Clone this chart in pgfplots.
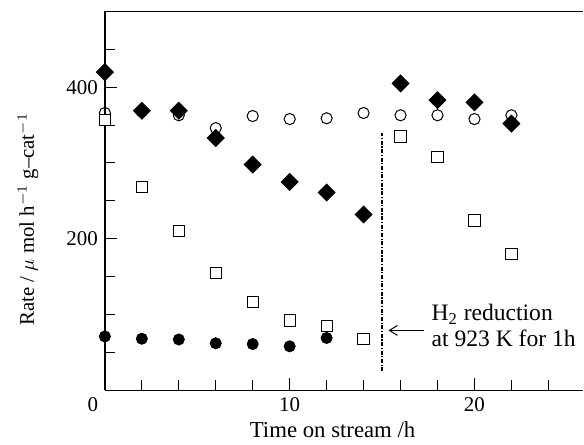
\documentclass[border=0pt]{standalone}
\usepackage{fontspec}
\setmainfont{Liberation Serif}
\usepackage{pgfplots}
\pgfplotsset{compat=1.18}
\usetikzlibrary{arrows.meta}
\begin{document}
\begin{tikzpicture}
\begin{axis}[
    name=ax,
    scale only axis,
    width=239.5pt, height=189.6pt,
    xmin=0, xmax=25.89,
    ymin=0, ymax=500,
    axis x line*=box, axis y line*=left,
    xtick pos=left, ytick pos=left,
    xtick={0,10,20},
    xticklabels={\makebox[0pt]{0\hspace{12pt}},10,20},
    minor xtick={2,4,6,8,12,14,16,18,22,24},
    ytick={200,400},
    minor ytick={50,100,150,250,300,350,450},
    major tick length=6pt, minor tick length=5pt,
    tick style={black, line width=0.5pt},
    axis line style={line width=0.7pt},
    /pgf/number format/assume math mode=true,
    ticklabel style={font=\fontsize{10.5}{12}\selectfont},
    xlabel={Time on stream /h},
    xlabel style={at={(rel axis cs:0.476,-0.1247)}, anchor=base, font=\fontsize{11.4}{13}\selectfont},
    ylabel={Rate / $\mu$ mol h$^{-1}$ g--cat$^{-1}$},
    ylabel style={at={(rel axis cs:-0.1482,0.452)}, anchor=base, font=\fontsize{10.4}{12}\selectfont},
    clip=false,
    every axis plot/.append style={only marks, line width=0.5pt},
]

% open circles
\addplot[mark=o, mark size=2.8pt, mark options={fill=white}] coordinates {
    (0,366) (2,368) (4,363) (6,346) (8,362) (10,358)
    (12,359) (14,366) (16,363) (18,363) (20,358) (22,363)
};

% open squares
\addplot[mark=square*, mark size=2.8pt, mark options={fill=white, draw=black}] coordinates {
    (0,357) (2,268) (4,210) (6,155) (8,117) (10,92) (12,85) (14,68)
    (16,335) (18,308) (20,224) (22,180)
};

% filled circles
\addplot[mark=*, mark size=2.75pt, mark options={fill=black}] coordinates {
    (0,71) (2,68) (4,67) (6,62) (8,61) (10,58) (12,69)
};

% filled diamonds
\addplot[mark=square*, mark size=2.95pt, mark options={fill=black, rotate=45}] coordinates {
    (0,420) (2,369) (4,369) (6,333) (8,298) (10,275) (12,261) (14,232)
    (16,405) (18,383) (20,380) (22,352)
};

% H2 reduction marker
\draw[line width=0.6pt, dash pattern=on 2pt off 0.8pt on 0.6pt off 0.8pt]
    (axis cs:15,25) -- (axis cs:15,340);
\draw[line width=0.5pt, -{Straight Barb[length=4pt,width=5pt]}]
    (axis cs:17.26,79) -- (axis cs:15.35,79);
\node[anchor=base west, font=\fontsize{11.8}{13}\selectfont, inner sep=0pt]
    at (axis cs:17.66,92) {H\textsubscript{2} reduction};
\node[anchor=base west, font=\fontsize{11.8}{13}\selectfont, inner sep=0pt]
    at (axis cs:17.66,58) {at 923 K for 1h};

\coordinate (o) at (rel axis cs:0,0);
\end{axis}
\path (o) ++(-52.5pt,-25.15pt) rectangle ++(292pt,220.5pt);
\end{tikzpicture}
\end{document}
